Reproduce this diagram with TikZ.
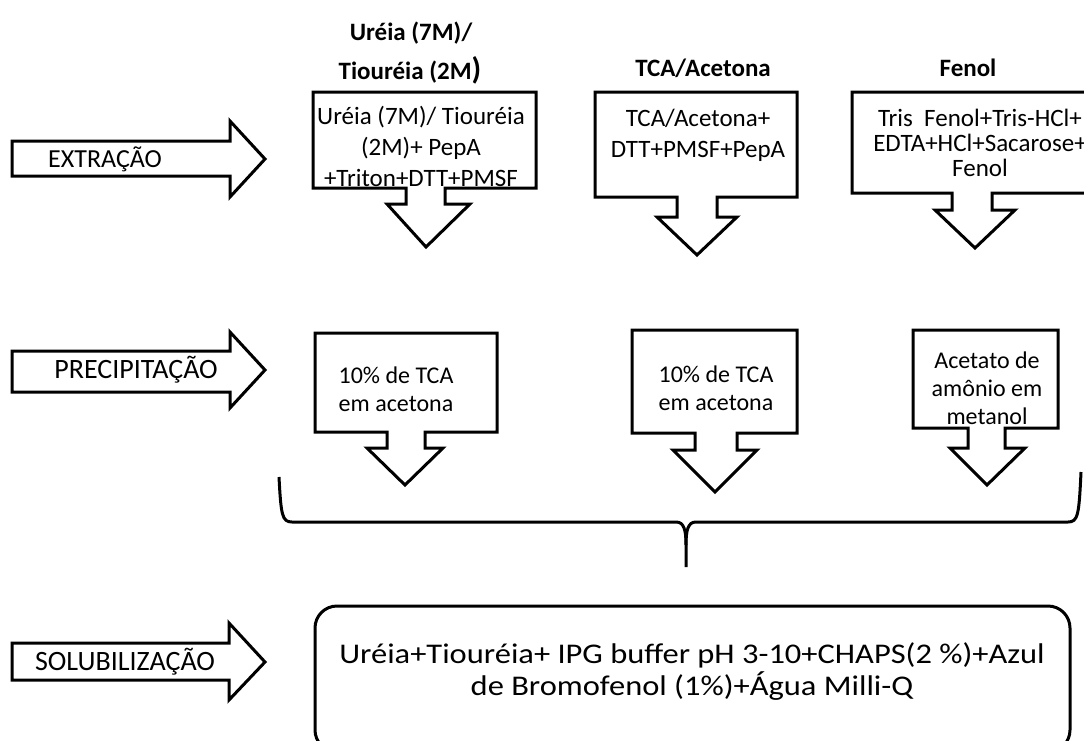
\documentclass[tikz,border=0pt]{standalone}
\usepackage{fontspec}
\setmainfont{Carlito}
\newfontfamily\widefont[FakeStretch=1.14]{Carlito}
\begin{document}
\begin{tikzpicture}[x=1pt,y=-1pt,
  shp/.style={draw=black,line width=3pt,line join=miter,fill=white},
  lbl/.style={inner sep=0pt,align=center,font=\fontsize{25}{31}\selectfont},
  ttl/.style={inner sep=0pt,align=center,font=\fontsize{25}{31}\selectfont\bfseries},
  small/.style={inner sep=0pt,align=center,font=\fontsize{24}{28}\selectfont}]
\clip (0,0) rectangle (1084,740);
\fill[white] (0,0) rectangle (1084,740);

% left block arrows
\draw[shp] (12,141) -- (230,141) -- (230,121) -- (265,159) -- (230,197) -- (230,176) -- (12,176) -- cycle;
\node[lbl,font=\fontsize{26}{31}\selectfont] (ext) at (105,159) {EXTRAÇÃO};
\draw[shp] (12,351) -- (230,351) -- (230,332) -- (265,370) -- (230,408) -- (230,392) -- (12,392) -- cycle;
\node[lbl,font=\fontsize{28}{31}\selectfont] (pre) at (136,370) {PRECIPITAÇÃO};
\draw[shp] (12,643) -- (229,643) -- (229,623) -- (265,662) -- (229,700) -- (229,680) -- (12,680) -- cycle;
\node[lbl,font=\fontsize{28}{31}\selectfont] (sol) at (125,662) {SOLUBILIZAÇÃO};

% titles
\node[ttl] (t1a) at (411,33) {Uréia (7M)/};
\node[ttl] (t1b) at (410,70) {Tiouréia (2M{\fontsize{31}{31}\selectfont )}};
\node[ttl] (t2) at (703,68) {TCA/Acetona};
\node[ttl] (t3) at (968,68) {Fenol};

% top-row callouts
\draw[shp] (313,92) -- (536,92) -- (536,188) -- (445,188) -- (445,204) -- (470,204) -- (426,247) -- (387,204) -- (406,204) -- (406,188) -- (313,188) -- cycle;
\node[lbl] (b1) at (421,146) {Uréia (7M)/ Tiouréia\\(2M)+ PepA\\+Triton+DTT+PMSF};
\draw[shp] (595,92) -- (797,92) -- (797,197) -- (717,197) -- (717,217) -- (737,217) -- (697,255) -- (657,217) -- (677,217) -- (677,197) -- (595,197) -- cycle;
\node[lbl] (b2) at (698,135) {TCA/Acetona+\\DTT+PMSF+PepA};
\draw[shp] (852,92) -- (1108,92) -- (1108,193) -- (992,193) -- (992,210) -- (1015,210) -- (975,248) -- (935,210) -- (952,210) -- (952,193) -- (852,193) -- cycle;
\node[lbl,font=\fontsize{25}{25}\selectfont] (b3) at (980,143) {Tris~ Fenol+Tris-HCl+\\EDTA+HCl+Sacarose+\\Fenol};

% precipitation callouts
\draw[shp] (315,333) -- (497,333) -- (497,432) -- (425,432) -- (425,448) -- (443,448) -- (405,485) -- (367,448) -- (387,448) -- (387,432) -- (315,432) -- cycle;
\node[small] (p1) at (396,389) {10\% de TCA\\em acetona};
\draw[shp] (632,330) -- (797,330) -- (797,433) -- (737,433) -- (737,450) -- (757,450) -- (715,492) -- (673,450) -- (695,450) -- (695,433) -- (632,433) -- cycle;
\node[small] (p2) at (716,388) {10\% de TCA\\em acetona};
\draw[shp] (913,330) -- (1058,330) -- (1058,428) -- (1005,428) -- (1005,448) -- (1025,448) -- (987,485) -- (950,448) -- (968,448) -- (968,428) -- (913,428) -- cycle;
\node[small] (p3) at (987,388) {Acetato de\\amônio em\\metanol};

% brace
\coordinate (bl) at (279,477);
\coordinate (br) at (1081,472);
\coordinate (bc) at (686,567);
\draw[line width=3pt] (bl) .. controls (281,515) and (282,522) .. (292,522) -- (676,522) .. controls (684,522) and (686,530) .. (686,545) -- (bc);
\draw[line width=3pt] (br) .. controls (1079,515) and (1078,522) .. (1068,522) -- (696,522) .. controls (688,522) and (686,530) .. (686,545);

% solubilization box
\draw[line width=3pt,rounded corners=22pt,fill=white] (315,606) rectangle (1070,752);
\node[lbl,font=\widefont\fontsize{28.5}{32}\selectfont] (s) at (692,672) {Uréia+Tiouréia+ IPG buffer pH 3-10+CHAPS(2 \%)+Azul\\de Bromofenol (1\%)+Água Milli-Q};
\end{tikzpicture}
\end{document}
